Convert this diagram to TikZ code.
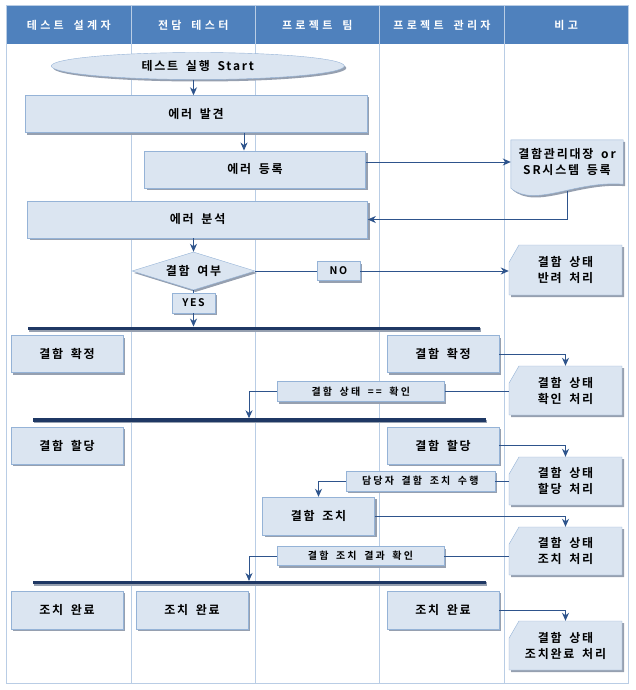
\documentclass[tikz,border=0pt]{standalone}
\usepackage{fontspec}
\setmainfont{Noto Sans CJK KR Bold}[LetterSpace=15,WordSpace=1.7]
\newfontfamily\headfont{Noto Sans CJK KR Bold}[LetterSpace=30,WordSpace=1.7]
\newfontfamily\tagfont{Noto Sans CJK KR Bold}[LetterSpace=22,WordSpace=1.7]
\usetikzlibrary{shapes.geometric, shapes.misc, arrows.meta, shadows, backgrounds, calc}
\definecolor{headblue}{RGB}{79,129,189}
\definecolor{laneline}{RGB}{185,205,229}
\definecolor{boxfill}{RGB}{219,229,241}
\definecolor{boxline}{RGB}{149,179,215}
\definecolor{shadowgray}{RGB}{150,160,176}
\definecolor{flowblue}{RGB}{46,84,140}
\definecolor{barnavy}{RGB}{31,56,100}

\begin{document}
\begin{tikzpicture}[>={Stealth[length=8pt,width=7pt,inset=2.5pt]},x=1pt,y=-1pt,
	every node/.style={font=\fontsize{12}{16}\selectfont}]
	\tikzstyle{flow}=[->,draw=flowblue,line width=1pt]
	\tikzstyle{link}=[-,draw=flowblue,line width=1pt]
	\tikzstyle{boxshadow}=[drop shadow={shadow xshift=2pt,shadow yshift=-2pt,fill=shadowgray,opacity=1}]
	\tikzstyle{procbox}=[rectangle,draw=boxline,fill=boxfill,boxshadow,inner sep=0,
		minimum width=112,minimum height=37.5,align=center]
	\tikzstyle{startbox}=[ellipse,draw=boxline,fill=boxfill,boxshadow,inner sep=0,
		minimum width=293,minimum height=27]
	\tikzstyle{decbox}=[diamond,aspect=3,draw=boxline,fill=boxfill,boxshadow,inner sep=0,
		minimum width=123,minimum height=38]
	\tikzstyle{tagbox}=[rectangle,draw=boxline,fill=boxfill,boxshadow,inner sep=0,
		minimum height=20,font=\tagfont\fontsize{10}{12}\selectfont]
	\tikzstyle{cardbox}=[chamfered rectangle,chamfered rectangle corners=north west,
		chamfered rectangle angle=30,chamfered rectangle xsep=18pt,draw=boxline,fill=boxfill,boxshadow,
		inner sep=0,minimum width=113,minimum height=49,align=center]
	\tikzstyle{syncbar}=[rectangle,fill=barnavy,inner sep=0,minimum width=453,minimum height=3.5,
		drop shadow={shadow xshift=1pt,shadow yshift=-1.5pt,fill=shadowgray,opacity=1}]
	\tikzstyle{lanehead}=[text=white,font=\headfont\fontsize{11}{13}\selectfont]
	\useasboundingbox (0,0) rectangle (635,690);
	% lanes
	\fill[headblue] (6,5) rectangle (628,44);
	\draw[laneline] (131.5,5) -- (131.5,683) (255,5) -- (255,683)
		(379.5,5) -- (379.5,683) (504.5,5) -- (504.5,683);
	\draw[laneline] (6,5) rectangle (628,683);
	\node[lanehead] (hd1) at (68.75,25) {테스트 설계자};
	\node[lanehead] (hd2) at (193.25,25) {전담 테스터};
	\node[lanehead] (hd3) at (317.25,25) {프로젝트 팀};
	\node[lanehead] (hd4) at (442,25) {프로젝트 관리자};
	\node[lanehead] (hd5) at (566.25,25) {비고};
	% flow
	\node[startbox] (start) at (197.8,66) {테스트 실행 Start};
	\node[procbox,minimum width=342,minimum height=37] (find) at (196,114) {에러 발견};
	\node[procbox,minimum width=221] (reg) at (255,169.5) {에러 등록};
	\node[minimum width=112,minimum height=44,inner sep=0,align=center] (doc) at (567,162)
		{결함관리대장 or\\SR시스템 등록};
	\begin{scope}[on background layer]
		\path[draw=boxline,fill=boxfill,boxshadow] (doc.north west) -- (doc.north east) -- (doc.south east)
			.. controls ($(doc.south east)+(-48,-4)$) and ($(doc.south west)+(24,24)$) .. ($(doc.south west)+(0,4)$)
			-- cycle;
	\end{scope}
	\node[procbox,minimum width=340] (anal) at (197.6,219.5) {에러 분석};
	\node[decbox] (dec) at (193.5,271) {결함 여부};
	\node[tagbox,minimum width=43,minimum height=19,font=\fontsize{10.5}{12}\selectfont] (no) at (338.5,271) {NO};
	\node[cardbox,minimum height=50] (rej) at (565.5,270) {결함 상태\\반려 처리};
	\node[tagbox,minimum width=43,font=\fontsize{10.5}{12}\selectfont] (yes) at (193.5,303) {YES};
	\node[syncbar,minimum width=452.5] (bar1) at (253.75,328.5) {};
	\node[procbox,minimum height=37] (conf1) at (67,354) {결함 확정};
	\node[procbox,minimum height=37] (conf2) at (443,354) {결함 확정};
	\node[cardbox] (chk) at (565.5,390.5) {결함 상태\\확인 처리};
	\node[tagbox,minimum width=167] (lbl1) at (360.8,391.5) {결함 상태 == 확인};
	\node[syncbar] (bar2) at (259.5,420) {};
	\coordinate (join2) at (249,418.3);
	\node[procbox] (asg1) at (67,445.5) {결함 할당};
	\node[procbox] (asg2) at (443,445.5) {결함 할당};
	\node[cardbox,minimum height=48] (asgc) at (565.5,481) {결함 상태\\할당 처리};
	\node[tagbox,minimum width=149] (lbl2) at (420.3,481) {담당자 결함 조치 수행};
	\node[procbox,minimum height=38] (fix) at (318.5,516) {결함 조치};
	\node[cardbox,minimum height=48] (fixc) at (565.5,551) {결함 상태\\조치 처리};
	\node[tagbox,minimum width=167,minimum height=19] (lbl3) at (360.5,556) {결함 조치 결과 확인};
	\node[syncbar] (bar3) at (259.5,582.6) {};
	\coordinate (join3) at (249,581);
	\node[procbox,minimum height=38] (done1) at (67,610) {조치 완료};
	\node[procbox,minimum height=38] (done2) at (192,610) {조치 완료};
	\node[procbox,minimum height=38] (done3) at (443,610) {조치 완료};
	\node[cardbox] (donec) at (565.5,645.5) {결함 상태\\조치완료 처리};
	% connectors
	\path
		(start.south -| dec.north) edge[flow] (find.north -| dec.north)
		([xshift=-11pt]reg.north |- find.south) edge[flow] ([xshift=-11pt]reg.north)
		(doc.west -| reg.east) edge[flow] (doc.west)
		(anal.south -| dec.north) edge[flow] (dec.north)
		(no.east) edge[flow] (no.east -| rej.west);
	\draw[link] (dec.east) -- (no.west) (dec.south) -- (yes.north);
	\draw[flow] (yes.south) -- (yes.south |- bar1.north);
	\draw[flow] ($(doc.south)+(0,7)$) |- (anal.east);
	\draw[flow] (conf2.east) -| (chk.north);
	\draw[link] (lbl1.east -| chk.west) -- (lbl1.east);
	\draw[flow] (lbl1.west) -| (join2);
	\draw[flow] (asg2.east) -| (asgc.north);
	\draw[link] (lbl2.east -| asgc.west) -- (lbl2.east);
	\draw[flow] (lbl2.west) -| (fix.north);
	\draw[flow] (fix.east) -| (fixc.north);
	\draw[link] (lbl3.east -| fixc.west) -- (lbl3.east);
	\draw[flow] (lbl3.west) -| (join3);
	\draw[flow] (done3.east) -| (donec.north);
\end{tikzpicture}
\end{document}
